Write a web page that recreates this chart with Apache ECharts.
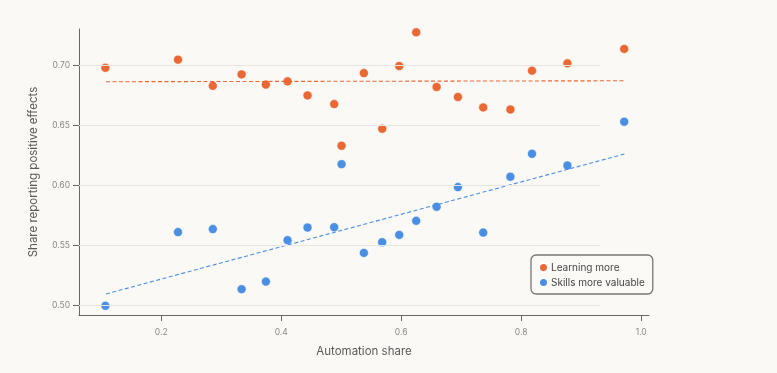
<!DOCTYPE html>
<html><head><meta charset="utf-8">
<script src="https://cdn.jsdelivr.net/npm/echarts@6/dist/echarts.min.js"></script>
<style>html,body{margin:0;padding:0;background:#faf9f5;}#c{width:777px;height:373px;}</style>
</head><body><div id="c"></div>
<script>
const automation = [0.107,0.228,0.286,0.334,0.3745,0.4106,0.4439,0.4883,0.5006,0.5378,0.5683,0.5967,0.625,0.659,0.6945,0.7367,0.782,0.818,0.877,0.9717];
const learningMore = [0.698,0.7048,0.683,0.6925,0.684,0.6867,0.675,0.6678,0.6331,0.6936,0.6473,0.6995,0.7275,0.682,0.6737,0.665,0.6633,0.6956,0.7017,0.7137];
const skillsMoreValuable = [0.4998,0.5612,0.5637,0.5137,0.52,0.5545,0.565,0.5653,0.6178,0.5439,0.5528,0.5589,0.5706,0.5823,0.5987,0.5608,0.6073,0.6264,0.6167,0.6531];
const trendX = [0.108,0.972];
const learningTrend = [0.6864,0.6872];
const skillsTrend = [0.5097,0.6262];
const yTicks = [0.50,0.55,0.60,0.65,0.70];
const xTicks = [0.2,0.4,0.6,0.8,1.0];

const ORANGE = '#eb6834', BLUE = '#4a8fe3';
const FONT = 'Inter, "Open Sans", sans-serif';
const X_MIN = 0.063, X_MAX = 1.013, Y_MIN = 0.4922, Y_MAX = 0.7303, GRID_END = 0.932;

const chart = echarts.init(document.getElementById('c'), null, {renderer:'canvas'});
const pts = arr => automation.map((x,i)=>[x,arr[i]]);
const trend = arr => trendX.map((x,i)=>[x,arr[i]]);
chart.setOption({
  backgroundColor:'#faf9f5',
  animation:false,
  grid:{left:79,right:128,top:29,bottom:58},
  xAxis:{type:'value',min:X_MIN,max:X_MAX,
    name:'Automation share',nameLocation:'middle',nameGap:31,
    nameTextStyle:{color:'#5a5a5a',fontSize:11.5,fontFamily:FONT},
    axisLine:{show:true,lineStyle:{color:'#666',width:1}},
    axisTick:{show:true,length:6,lineStyle:{color:'#666'},customValues:xTicks},
    axisLabel:{color:'#888',fontSize:8.5,fontFamily:FONT,margin:13,customValues:xTicks,formatter:v=>v.toFixed(1)},
    splitLine:{show:false}},
  yAxis:{type:'value',min:Y_MIN,max:Y_MAX,
    name:'Share reporting positive effects',nameLocation:'middle',nameGap:39,
    nameTextStyle:{color:'#5a5a5a',fontSize:11.5,fontFamily:FONT},
    axisLine:{show:true,lineStyle:{color:'#666',width:1}},
    axisTick:{show:true,length:6,lineStyle:{color:'#666'},customValues:yTicks},
    axisLabel:{color:'#888',fontSize:8.5,fontFamily:FONT,margin:9,customValues:yTicks,formatter:v=>v.toFixed(2)},
    splitLine:{show:false}},
  legend:{left:531,top:255,orient:'vertical',itemGap:4,itemWidth:9,itemHeight:9,
    padding:[7,8,6,7],borderColor:'#777',borderWidth:1.3,borderRadius:5,backgroundColor:'#fbfaf7',
    textStyle:{color:'#444',fontSize:10,fontFamily:FONT,padding:[0,0,0,-2]},
    data:[{name:'Learning more',icon:'circle'},{name:'Skills more valuable',icon:'circle'}]},
  series:[
    {type:'line',name:'grid',data:[],silent:true,
      markLine:{silent:true,symbol:'none',label:{show:false},
        lineStyle:{color:'#e7e5df',width:1,type:'solid'},
        data:yTicks.map(t=>[{coord:[X_MIN,t]},{coord:[GRID_END,t]}])}},
    {type:'line',name:'Learning trend',data:trend(learningTrend),symbol:'none',silent:true,
      lineStyle:{color:ORANGE,width:1.1,type:[4,2.5]}},
    {type:'line',name:'Skills trend',data:trend(skillsTrend),symbol:'none',silent:true,
      lineStyle:{color:BLUE,width:1.1,type:[4,2.5]}},
    {type:'scatter',name:'Learning more',data:pts(learningMore),symbolSize:9,
      itemStyle:{color:ORANGE,opacity:1,borderColor:'#fff',borderWidth:0.5}},
    {type:'scatter',name:'Skills more valuable',data:pts(skillsMoreValuable),symbolSize:9,
      itemStyle:{color:BLUE,opacity:1,borderColor:'#fff',borderWidth:0.5}}
  ]
});
</script></body></html>
